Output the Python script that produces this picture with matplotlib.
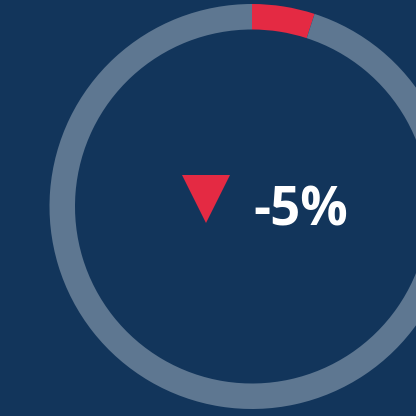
import matplotlib.pyplot as plt

# KPI ring data
change_pct = -5
segments = [abs(change_pct), 100 - abs(change_pct)]
segment_colors = ["#e42a43", "#5e7791"]
label = f"{change_pct}%"

bg = "#12355b"

fig = plt.figure(figsize=(4.16, 4.16), dpi=100, facecolor=bg)
ax = fig.add_axes([0, 0, 1, 1])
ax.set_facecolor(bg)

# ring
ax.pie(
    segments,
    colors=segment_colors,
    startangle=90,
    counterclock=False,
    center=(252, -206.5),
    radius=202.5,
    wedgeprops=dict(width=25.5, linewidth=0),
    frame=True,
)

# down arrow
ax.plot(205.5, -199, marker="v", markersize=34.5, color="#e42a43",
        markeredgewidth=0)

# value text
ax.text(300.5, -225, label, color="white", fontsize=38, fontweight="bold",
        family="Open Sans", ha="center", va="baseline")

ax.set_xlim(0, 416)
ax.set_ylim(-416, 0)
ax.set_aspect("equal")
ax.axis("off")

fig.savefig("out.png", dpi=100, facecolor=bg)
